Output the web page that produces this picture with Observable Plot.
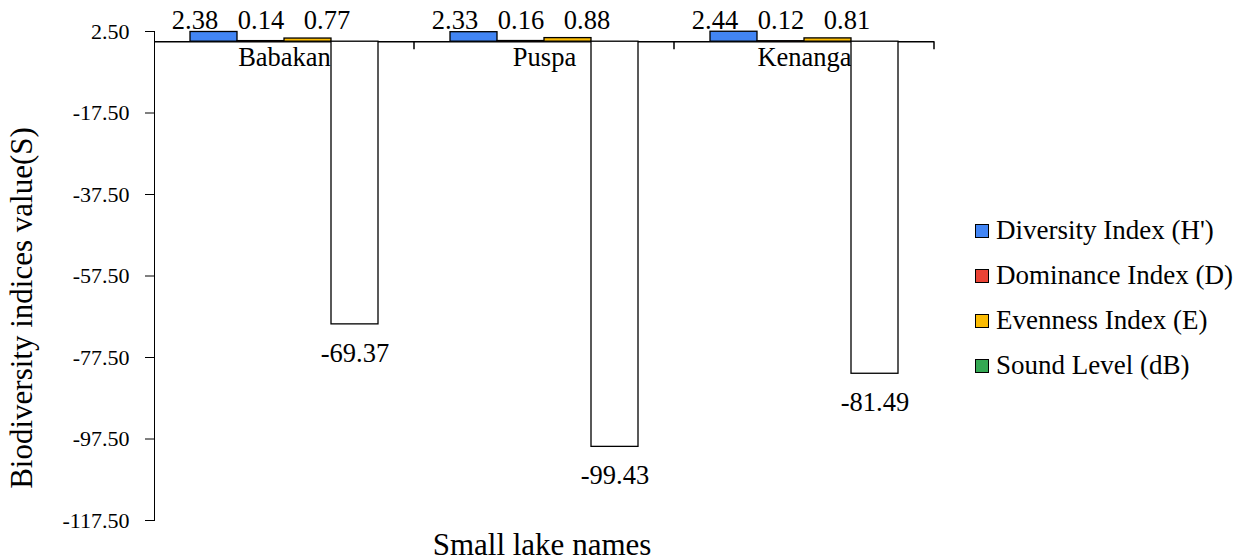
<!DOCTYPE html>
<html>
<head>
<meta charset="utf-8">
<script src="https://cdn.jsdelivr.net/npm/d3@7"></script>
<script src="https://cdn.jsdelivr.net/npm/@observablehq/plot@0.6"></script>
<style>
  html, body { margin: 0; padding: 0; background: #fff; }
  #wrap { position: relative; width: 1239px; height: 560px; font-family: "Liberation Serif", "Times New Roman", serif; color: #000; }
  #chart { position: absolute; left: 0; top: 0; }
  #legend { position: absolute; left: 975px; top: 208px; font-size: 27px; }
  .item { display: flex; align-items: center; height: 45px; white-space: nowrap; }
  .sw { width: 12px; height: 12px; border: 1.6px solid #000; margin-right: 7px; box-sizing: content-box; }
  #xtitle { position: absolute; left: 542px; top: 545px; transform: translate(-50%, -50%); font-size: 31px; white-space: nowrap; }
  #ytitle { position: absolute; left: 22px; top: 308px; transform: translate(-50%, -50%) rotate(-90deg); font-size: 31px; white-space: nowrap; }
</style>
</head>
<body>
<div id="wrap"><div id="chart"></div><div id="legend"></div><div id="xtitle"></div><div id="ytitle"></div></div>
<script>
// ---- data ----
const lakes = ["Babakan", "Puspa", "Kenanga"];
const seriesNames = ["Diversity Index (H')", "Dominance Index (D)", "Evenness Index (E)", "Sound Level (dB)"];
const diversity = [2.38, 2.33, 2.44];
const dominance = [0.14, 0.16, 0.12];
const evenness = [0.77, 0.88, 0.81];
const soundLevel = [-69.37, -99.43, -81.49];
const yTicks = [2.5, -17.5, -37.5, -57.5, -77.5, -97.5, -117.5];
const seriesColors = ["#4285F4", "#EA4335", "#FBBC04", "#34A853"];
const xTitle = "Small lake names";
const yTitle = "Biodiversity indices value(S)";

// ---- style ----
const labelDx = [-19, 0, 19];
const font = "Liberation Serif";

const seriesValues = [diversity, dominance, evenness, soundLevel];
const rows = lakes.flatMap((lake, i) =>
  seriesNames.map((s, j) => ({lake, series: s, idx: j, value: seriesValues[j][i]})));
const barFill = d => d.idx === 3 ? "white" : seriesColors[d.idx];

function groupTicks(index, scales) {
  const r = scales.x.range();
  const xr = Math.max(r[0], r[1]);
  const y0 = scales.y(0);
  const g = d3.create("svg:g");
  g.append("line").attr("x1", xr).attr("x2", xr).attr("y1", y0).attr("y2", y0 + 8)
    .attr("stroke", "black").attr("stroke-width", 1.5);
  return g.node();
}

const marks = [
  Plot.text(lakes, {fx: d => d, y: 0, text: d => d, lineAnchor: "middle", dy: 16, fontSize: 26.5}),
  Plot.ruleY([0], {stroke: "black", strokeWidth: 1.5}),
  groupTicks,
  Plot.barY(rows, {fx: "lake", x: "series", y: "value", fill: barFill, stroke: "black", strokeWidth: 1.3}),
  ...[0, 1, 2].map(j => Plot.text(rows.filter(d => d.idx === j), {
    fx: "lake", x: "series", y: 0, text: d => d.value.toFixed(2),
    lineAnchor: "bottom", dy: -13, dx: labelDx[j], fontSize: 26.5
  })),
  Plot.text(rows.filter(d => d.idx === 3), {
    fx: "lake", x: "series", y: "value", text: d => d.value.toFixed(2),
    lineAnchor: "middle", dy: 29, fontSize: 26.5
  })
];

const chart = Plot.plot({
  width: 1239,
  height: 560,
  marginLeft: 153,
  marginRight: 305,
  marginTop: 31,
  marginBottom: 40,
  style: {fontFamily: font, fontSize: "22px", color: "black", background: "white"},
  fx: {domain: lakes, padding: 0, axis: null},
  x: {domain: seriesNames, paddingInner: 0, paddingOuter: 0.72, axis: null},
  y: {domain: [-117.5, 2.5], ticks: yTicks, tickFormat: d => d.toFixed(2), tickSize: 9,
      tickPadding: 16, line: true, label: null},
  marks
});
document.getElementById("chart").appendChild(chart);

document.getElementById("xtitle").textContent = xTitle;
document.getElementById("ytitle").textContent = yTitle;

const legend = document.getElementById("legend");
seriesNames.forEach((s, j) => {
  const it = document.createElement("div");
  it.className = "item";
  const sw = document.createElement("span");
  sw.className = "sw";
  sw.style.background = seriesColors[j];
  const tx = document.createElement("span");
  tx.textContent = s;
  it.appendChild(sw); it.appendChild(tx);
  legend.appendChild(it);
});
</script>
</body>
</html>
